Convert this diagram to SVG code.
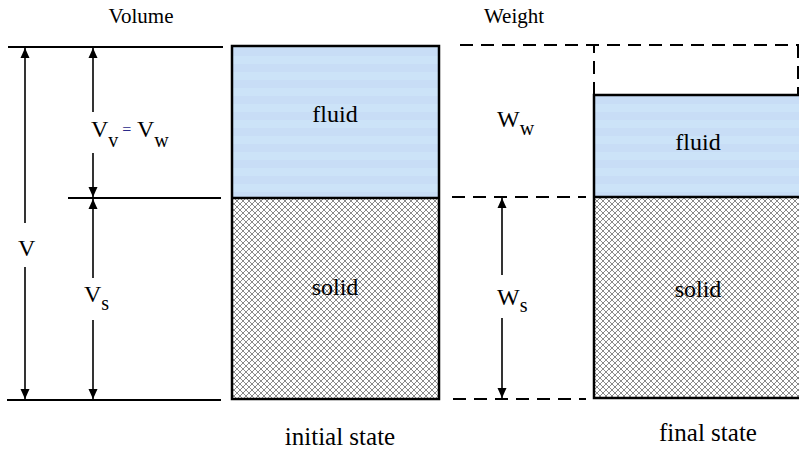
<svg xmlns="http://www.w3.org/2000/svg" width="799" height="449" viewBox="0 0 799 449">
<style>
  .t { font-family: "Liberation Serif", "Times New Roman", serif; fill: #000; }
  .lbl { font-size: 24px; }
  .sub { font-size: 20px; }
  .ttl { font-size: 21px; }
  .state { font-size: 25px; }
  .solidline { stroke: #000; stroke-width: 2; fill: none; }
  .dash { stroke: #000; stroke-width: 2; fill: none; stroke-dasharray: 13 8; }
  .box { stroke: #000; stroke-width: 2.5; }
  .arr { stroke: #000; stroke-width: 1.6; fill: none; }
</style>
<defs>
  <pattern id="hatch" width="6" height="6" patternUnits="userSpaceOnUse">
    <rect width="6" height="6" fill="#ffffff"/>
    <path d="M0,0 L6,6 M6,0 L0,6" stroke="#8a8a8a" stroke-width="1"/>
  </pattern>
  <pattern id="water" width="20" height="16" patternUnits="userSpaceOnUse">
    <rect width="20" height="8" fill="#c8ddf6"/>
    <rect y="8" width="20" height="8" fill="#cce3f8"/>
  </pattern>
  <marker id="ah" viewBox="0 0 10 10" refX="10" refY="5" markerWidth="10" markerHeight="10" markerUnits="userSpaceOnUse" orient="auto-start-reverse">
    <path d="M0,0.5 L10,5 L0,9.5 z" fill="#000"/>
  </marker>
</defs>

<g id="titles">
  <text class="t ttl" x="141" y="23" text-anchor="middle">Volume</text>
  <text class="t ttl" x="514" y="23" text-anchor="middle">Weight</text>
</g>

<g id="initial-state">
  <rect x="232" y="46" width="207" height="152" fill="url(#water)"/>
  <rect x="232" y="198" width="207" height="201" fill="url(#hatch)"/>
  <rect x="232" y="46" width="207" height="353" fill="none" class="box"/>
  <line x1="232" y1="198" x2="439" y2="198" class="box"/>
  <text class="t lbl" x="335" y="122" text-anchor="middle">fluid</text>
  <text class="t lbl" x="335" y="295" text-anchor="middle">solid</text>
  <text class="t state" x="340" y="445" text-anchor="middle">initial state</text>
</g>

<g id="final-state">
  <path d="M594,95 V45 M798,45 V95" class="dash" stroke="#777"/>
  <rect x="594" y="95" width="210" height="102" fill="url(#water)"/>
  <rect x="594" y="197" width="210" height="201" fill="url(#hatch)"/>
  <path d="M806,95 H594 V398 H806" fill="none" class="box"/>
  <line x1="594" y1="197" x2="806" y2="197" class="box"/>
  <text class="t lbl" x="698" y="150" text-anchor="middle">fluid</text>
  <text class="t lbl" x="698" y="297" text-anchor="middle">solid</text>
  <text class="t state" x="708" y="441" text-anchor="middle">final state</text>
</g>

<g id="volume-labels">
  <text class="t lbl" x="18" y="256">V</text>
  <text class="t lbl" x="91" y="137">V<tspan class="sub" dy="10">v</tspan><tspan dy="-12" font-size="16" fill="#2a2a8a"> =</tspan><tspan dy="2"> V</tspan><tspan class="sub" dy="10">w</tspan></text>
  <text class="t lbl" x="84" y="302">V<tspan class="sub" dy="8">s</tspan></text>
</g>

<g id="weight-labels">
  <text class="t lbl" x="497" y="127">W<tspan class="sub" dy="8">w</tspan></text>
  <text class="t lbl" x="497" y="305">W<tspan class="sub" dy="7">s</tspan></text>
</g>

<g id="connectors">
  <line x1="8" y1="47" x2="223" y2="47" class="solidline"/>
  <line x1="68" y1="198" x2="221" y2="198" class="solidline"/>
  <line x1="7" y1="400" x2="221" y2="400" class="solidline"/>
  <line x1="460" y1="45" x2="799" y2="45" class="dash"/>
  <line x1="452" y1="197" x2="586" y2="197" class="dash"/>
  <line x1="453" y1="399" x2="586" y2="399" class="dash"/>

  <line x1="25" y1="223" x2="25" y2="48" class="arr" marker-end="url(#ah)"/>
  <line x1="25" y1="267" x2="25" y2="399" class="arr" marker-end="url(#ah)"/>
  <line x1="93" y1="112" x2="93" y2="48" class="arr" marker-end="url(#ah)"/>
  <line x1="93" y1="153" x2="93" y2="197" class="arr" marker-end="url(#ah)"/>
  <line x1="93" y1="278" x2="93" y2="199" class="arr" marker-end="url(#ah)"/>
  <line x1="93" y1="320" x2="93" y2="399" class="arr" marker-end="url(#ah)"/>
  <line x1="502" y1="275" x2="502" y2="198" class="arr" marker-end="url(#ah)"/>
  <line x1="502" y1="318" x2="502" y2="398" class="arr" marker-end="url(#ah)"/>
</g>
</svg>
